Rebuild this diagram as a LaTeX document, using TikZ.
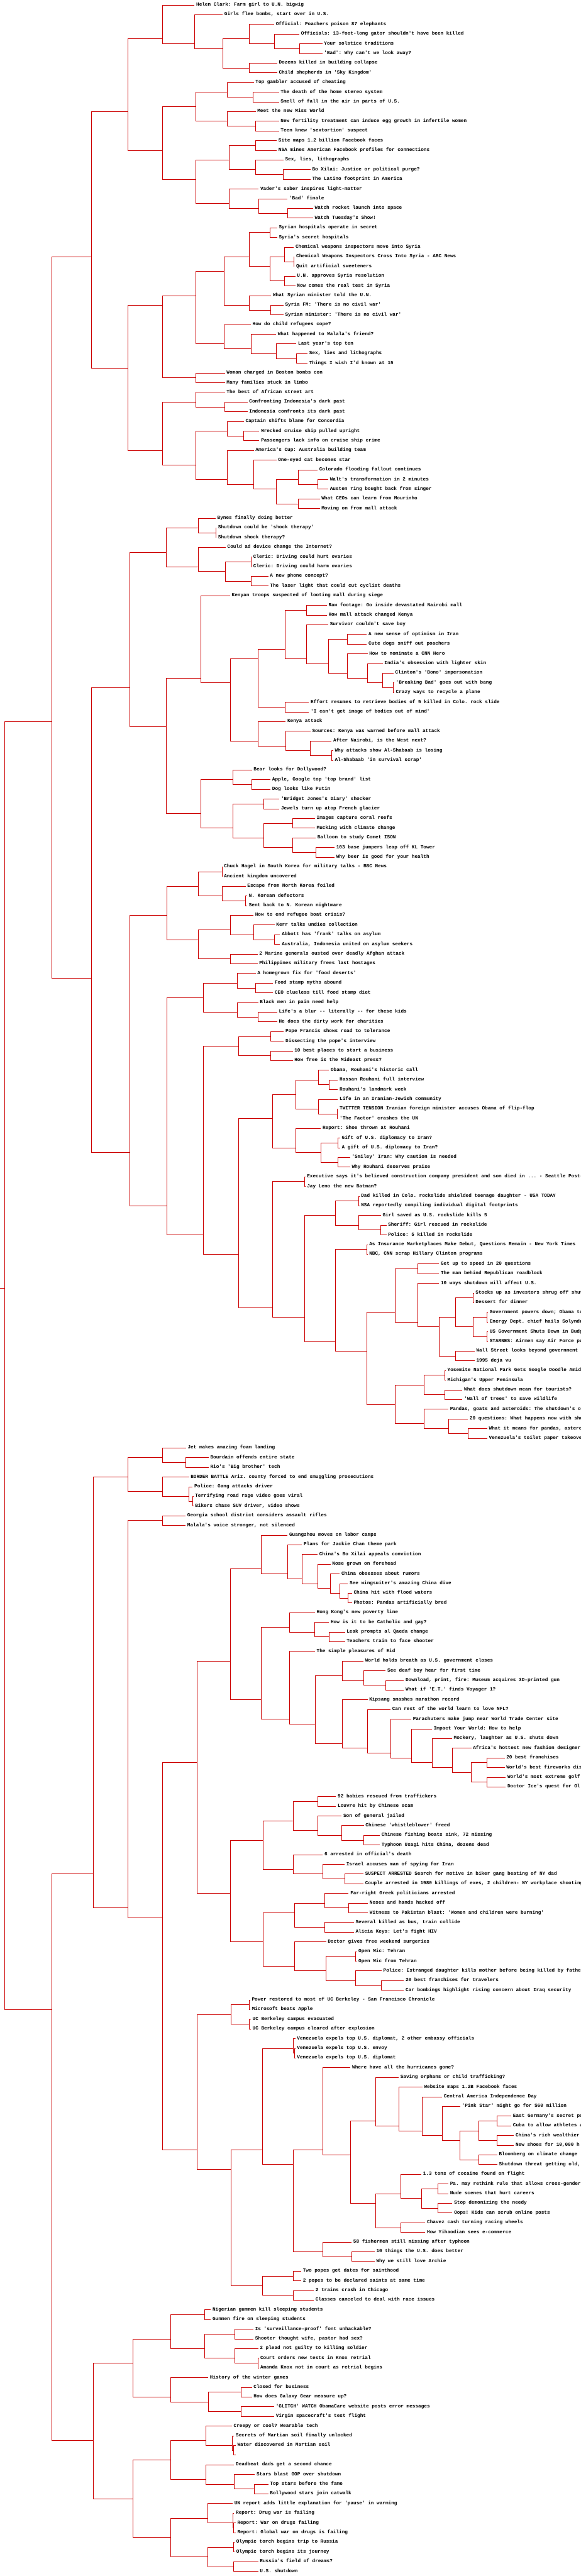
\documentclass[tikz,border=0pt]{standalone}
\usepackage{fontspec}
\setmonofont{Liberation Mono}
\usepackage{xcolor}
\usepackage{tikz}
\definecolor{linkred}{RGB}{204,0,0}

\begin{document}
\begin{tikzpicture}[
  x=0.574pt, y=-15pt,
  leaf/.style={anchor=west, inner xsep=2.5pt, inner ysep=0pt, text height=4.5pt, text depth=1.5pt,
               font=\ttfamily\bfseries\fontsize{7.5pt}{9pt}\selectfont},
  br/.style={draw=linkred, line width=0.75pt},
  elbow/.style={to path={|- (\tikztotarget)}}
]
\path[use as bounding box, fill=white] (0,-0.515) rectangle (1568,265.485);
\clip (0,-0.515) rectangle (1568,265.485);

\node[leaf] (t0) at (525,0) {Helen Clark: Farm girl to U.N. bigwig};
\node[leaf] (t1) at (601,1) {Girls flee bombs, start over in U.S.};
\node[leaf] (t2) at (740,2) {Official: Poachers poison 87 elephants};
\node[leaf] (t3) at (808,3) {Officials: 13-foot-long gator shouldn't have been killed};
\node[leaf] (t4) at (870,4) {Your solstice traditions};
\node[leaf] (t5) at (870,5) {'Bad': Why can't we look away?};
\node[leaf] (t6) at (748,6) {Dozens killed in building collapse};
\node[leaf] (t7) at (748,7) {Child shepherds in 'Sky Kingdom'};
\node[leaf] (t8) at (685,8) {Top gambler accused of cheating};
\node[leaf] (t9) at (753,9) {The death of the home stereo system};
\node[leaf] (t10) at (753,10) {Smell of fall in the air in parts of U.S.};
\node[leaf] (t11) at (690,11) {Meet the new Miss World};
\node[leaf] (t12) at (753,12) {New fertility treatment can induce egg growth in infertile women};
\node[leaf] (t13) at (753,13) {Teen knew 'sextortion' suspect};
\node[leaf] (t14) at (747,14) {Site maps 1.2 billion Facebook faces};
\node[leaf] (t15) at (747,15) {NSA mines American Facebook profiles for connections};
\node[leaf] (t16) at (765,16) {Sex, lies, lithographs};
\node[leaf] (t17) at (838,17) {Bo Xilai: Justice or political purge?};
\node[leaf] (t18) at (838,18) {The Latino footprint in America};
\node[leaf] (t19) at (698,19) {Vader's saber inspires light-matter};
\node[leaf] (t20) at (776,20) {'Bad' finale};
\node[leaf] (t21) at (845,21) {Watch rocket launch into space};
\node[leaf] (t22) at (845,22) {Watch Tuesday's Show!};
\node[leaf] (t23) at (748,23) {Syrian hospitals operate in secret};
\node[leaf] (t24) at (748,24) {Syria's secret hospitals};
\node[leaf] (t25) at (793,25) {Chemical weapons inspectors move into Syria};
\node[leaf] (t26) at (795,26) {Chemical Weapons Inspectors Cross Into Syria - ABC News};
\node[leaf] (t27) at (795,27) {Quit artificial sweeteners};
\node[leaf] (t28) at (797,28) {U.N. approves Syria resolution};
\node[leaf] (t29) at (797,29) {Now comes the real test in Syria};
\node[leaf] (t30) at (732,30) {What Syrian minister told the U.N.};
\node[leaf] (t31) at (765,31) {Syria FM: 'There is no civil war'};
\node[leaf] (t32) at (765,32) {Syrian minister: 'There is no civil war'};
\node[leaf] (t33) at (677,33) {How do child refugees cope?};
\node[leaf] (t34) at (745,34) {What happened to Malala's friend?};
\node[leaf] (t35) at (800,35) {Last year's top ten};
\node[leaf] (t36) at (830,36) {Sex, lies and lithographs};
\node[leaf] (t37) at (830,37) {Things I wish I'd known at 15};
\node[leaf] (t38) at (607,38) {Woman charged in Boston bombs con};
\node[leaf] (t39) at (607,39) {Many families stuck in limbo};
\node[leaf] (t40) at (607,40) {The best of African street art};
\node[leaf] (t41) at (668,41) {Confronting Indonesia's dark past};
\node[leaf] (t42) at (668,42) {Indonesia confronts its dark past};
\node[leaf] (t43) at (658,43) {Captain shifts blame for Concordia};
\node[leaf] (t44) at (700,44) {Wrecked cruise ship pulled upright};
\node[leaf] (t45) at (700,45) {Passengers lack info on cruise ship crime};
\node[leaf] (t46) at (685,46) {America's Cup: Australia building team};
\node[leaf] (t47) at (746,47) {One-eyed cat becomes star};
\node[leaf] (t48) at (857,48) {Colorado flooding fallout continues};
\node[leaf] (t49) at (886,49) {Walt's transformation in 2 minutes};
\node[leaf] (t50) at (886,50) {Austen ring bought back from singer};
\node[leaf] (t51) at (863,51) {What CEOs can learn from Mourinho};
\node[leaf] (t52) at (863,52) {Moving on from mall attack};
\node[leaf] (t53) at (582,53) {Bynes finally doing better};
\node[leaf] (t54) at (584,54) {Shutdown could be 'shock therapy'};
\node[leaf] (t55) at (584,55) {Shutdown shock therapy?};
\node[leaf] (t56) at (609,56) {Could ad device change the Internet?};
\node[leaf] (t57) at (679,57) {Cleric: Driving could hurt ovaries};
\node[leaf] (t58) at (679,58) {Cleric: Driving could harm ovaries};
\node[leaf] (t59) at (724,59) {A new phone concept?};
\node[leaf] (t60) at (724,60) {The laser light that could cut cyclist deaths};
\node[leaf] (t61) at (621,61) {Kenyan troops suspected of looting mall during siege};
\node[leaf] (t62) at (882,62) {Raw footage: Go inside devastated Nairobi mall};
\node[leaf] (t63) at (882,63) {How mall attack changed Kenya};
\node[leaf] (t64) at (886,64) {Survivor couldn't save boy};
\node[leaf] (t65) at (990,65) {A new sense of optimism in Iran};
\node[leaf] (t66) at (990,66) {Cute dogs sniff out poachers};
\node[leaf] (t67) at (992,67) {How to nominate a CNN Hero};
\node[leaf] (t68) at (1033,68) {India's obsession with lighter skin};
\node[leaf] (t69) at (1062,69) {Clinton's 'Bono' impersonation};
\node[leaf] (t70) at (1064,70) {'Breaking Bad' goes out with bang};
\node[leaf] (t71) at (1064,71) {Crazy ways to recycle a plane};
\node[leaf] (t72) at (834,72) {Effort resumes to retrieve bodies of 5 killed in Colo. rock slide};
\node[leaf] (t73) at (834,73) {'I can't get image of bodies out of mind'};
\node[leaf] (t74) at (771,74) {Kenya attack};
\node[leaf] (t75) at (838,75) {Sources: Kenya was warned before mall attack};
\node[leaf] (t76) at (895,76) {After Nairobi, is the West next?};
\node[leaf] (t77) at (899,77) {Why attacks show Al-Shabaab is losing};
\node[leaf] (t78) at (899,78) {Al-Shabaab 'in survival scrap'};
\node[leaf] (t79) at (680,79) {Bear looks for Dollywood?};
\node[leaf] (t80) at (730,80) {Apple, Google top 'top brand' list};
\node[leaf] (t81) at (730,81) {Dog looks like Putin};
\node[leaf] (t82) at (754,82) {'Bridget Jones's Diary' shocker};
\node[leaf] (t83) at (754,83) {Jewels turn up atop French glacier};
\node[leaf] (t84) at (850,84) {Images capture coral reefs};
\node[leaf] (t85) at (850,85) {Mucking with climate change};
\node[leaf] (t86) at (852,86) {Balloon to study Comet ISON};
\node[leaf] (t87) at (903,87) {103 base jumpers leap off KL Tower};
\node[leaf] (t88) at (903,88) {Why beer is good for your health};
\node[leaf] (t89) at (600,89) {Chuck Hagel in South Korea for military talks - BBC News};
\node[leaf] (t90) at (600,90) {Ancient kingdom uncovered};
\node[leaf] (t91) at (663,91) {Escape from North Korea foiled};
\node[leaf] (t92) at (667,92) {N. Korean defectors};
\node[leaf] (t93) at (667,93) {Sent back to N. Korean nightmare};
\node[leaf] (t94) at (684,94) {How to end refugee boat crisis?};
\node[leaf] (t95) at (741,95) {Kerr talks undies collection};
\node[leaf] (t96) at (756,96) {Abbott has 'frank' talks on asylum};
\node[leaf] (t97) at (756,97) {Australia, Indonesia united on asylum seekers};
\node[leaf] (t98) at (695,98) {2 Marine generals ousted over deadly Afghan attack};
\node[leaf] (t99) at (695,99) {Philippines military frees last hostages};
\node[leaf] (t100) at (690,100) {A homegrown fix for 'food deserts'};
\node[leaf] (t101) at (737,101) {Food stamp myths abound};
\node[leaf] (t102) at (737,102) {CEO clueless till food stamp diet};
\node[leaf] (t103) at (697,103) {Black men in pain need help};
\node[leaf] (t104) at (748,104) {Life's a blur -- literally -- for these kids};
\node[leaf] (t105) at (748,105) {He does the dirty work for charities};
\node[leaf] (t106) at (766,106) {Pope Francis shows road to tolerance};
\node[leaf] (t107) at (766,107) {Dissecting the pope's interview};
\node[leaf] (t108) at (790,108) {10 best places to start a business};
\node[leaf] (t109) at (790,109) {How free is the Mideast press?};
\node[leaf] (t110) at (888,110) {Obama, Rouhani's historic call};
\node[leaf] (t111) at (912,111) {Hassan Rouhani full interview};
\node[leaf] (t112) at (912,112) {Rouhani's landmark week};
\node[leaf] (t113) at (912,113) {Life in an Iranian-Jewish community};
\node[leaf] (t114) at (912,114) {TWITTER TENSION  Iranian foreign minister accuses Obama of flip-flop};
\node[leaf] (t115) at (912,115) {'The Factor' crashes the UN};
\node[leaf] (t116) at (866,116) {Report: Shoe thrown at Rouhani};
\node[leaf] (t117) at (918,117) {Gift of U.S. diplomacy to Iran?};
\node[leaf] (t118) at (918,118) {A gift of U.S. diplomacy to Iran?};
\node[leaf] (t119) at (945,119) {'Smiley' Iran: Why caution is needed};
\node[leaf] (t120) at (945,120) {Why Rouhani deserves praise};
\node[leaf] (t121) at (824,121) {Executive says it's believed construction company president and son died in ... - Seattle Post-Intelligencer};
\node[leaf] (t122) at (824,122) {Jay Leno the new Batman?};
\node[leaf] (t123) at (970,123) {Dad killed in Colo. rockslide shielded teenage daughter - USA TODAY};
\node[leaf] (t124) at (970,124) {NSA reportedly compiling individual digital footprints};
\node[leaf] (t125) at (1028,125) {Girl saved as U.S. rockslide kills 5};
\node[leaf] (t126) at (1043,126) {Sheriff: Girl rescued in rockslide};
\node[leaf] (t127) at (1043,127) {Police: 5 killed in rockslide};
\node[leaf] (t128) at (992,128) {As Insurance Marketplaces Make Debut, Questions Remain - New York Times};
\node[leaf] (t129) at (992,129) {NBC, CNN scrap Hillary Clinton programs};
\node[leaf] (t130) at (1185,130) {Get up to speed in 20 questions};
\node[leaf] (t131) at (1185,131) {The man behind Republican roadblock};
\node[leaf] (t132) at (1185,132) {10 ways shutdown will affect U.S.};
\node[leaf] (t133) at (1279,133) {Stocks up as investors shrug off shutdown};
\node[leaf] (t134) at (1279,134) {Dessert for dinner};
\node[leaf] (t135) at (1317,135) {Government powers down; Obama to};
\node[leaf] (t136) at (1317,136) {Energy Dept. chief hails Solyndra};
\node[leaf] (t137) at (1317,137) {US Government Shuts Down in Budget};
\node[leaf] (t138) at (1317,138) {STARNES: Airmen say Air Force pu};
\node[leaf] (t139) at (1281,139) {Wall Street looks beyond government shutdown};
\node[leaf] (t140) at (1281,140) {1995 deja vu};
\node[leaf] (t141) at (1203,141) {Yosemite National Park Gets Google Doodle Amid Shutdown};
\node[leaf] (t142) at (1203,142) {Michigan's Upper Peninsula};
\node[leaf] (t143) at (1248,143) {What does shutdown mean for tourists?};
\node[leaf] (t144) at (1248,144) {'Wall of trees' to save wildlife};
\node[leaf] (t145) at (1210,145) {Pandas, goats and asteroids: The shutdown's o};
\node[leaf] (t146) at (1263,146) {20 questions: What happens now with shutdown};
\node[leaf] (t147) at (1315,147) {What it means for pandas, asteroids};
\node[leaf] (t148) at (1315,148) {Venezuela's toilet paper takeover};
\node[leaf] (t149) at (502,149) {Jet makes amazing foam landing};
\node[leaf] (t150) at (563,150) {Bourdain offends entire state};
\node[leaf] (t151) at (563,151) {Rio's 'Big brother' tech};
\node[leaf] (t152) at (510,152) {BORDER BATTLE Ariz. county forced to end smuggling prosecutions};
\node[leaf] (t153) at (520,153) {Police: Gang attacks driver};
\node[leaf] (t154) at (522,154) {Terrifying road rage video goes viral};
\node[leaf] (t155) at (522,155) {Bikers chase SUV driver, video shows};
\node[leaf] (t156) at (501,156) {Georgia school district considers assault rifles};
\node[leaf] (t157) at (501,157) {Malala's voice stronger, not silenced};
\node[leaf] (t158) at (776,158) {Guangzhou moves on labor camps};
\node[leaf] (t159) at (815,159) {Plans for Jackie Chan theme park};
\node[leaf] (t160) at (857,160) {China's Bo Xilai appeals conviction};
\node[leaf] (t161) at (892,161) {Nose grown on forehead};
\node[leaf] (t162) at (917,162) {China obsesses about rumors};
\node[leaf] (t163) at (939,163) {See wingsuiter's amazing China dive};
\node[leaf] (t164) at (950,164) {China hit with flood waters};
\node[leaf] (t165) at (950,165) {Photos: Pandas artificially bred};
\node[leaf] (t166) at (850,166) {Hong Kong's new poverty line};
\node[leaf] (t167) at (888,167) {How is it to be Catholic and gay?};
\node[leaf] (t168) at (931,168) {Leak prompts al Qaeda change};
\node[leaf] (t169) at (931,169) {Teachers train to face shooter};
\node[leaf] (t170) at (850,170) {The simple pleasures of Eid};
\node[leaf] (t171) at (981,171) {World holds breath as U.S. government closes};
\node[leaf] (t172) at (1041,172) {See deaf boy hear for first time};
\node[leaf] (t173) at (1090,173) {Download, print, fire: Museum acquires 3D-printed gun};
\node[leaf] (t174) at (1090,174) {What if 'E.T.' finds Voyager 1?};
\node[leaf] (t175) at (992,175) {Kipsang smashes marathon record};
\node[leaf] (t176) at (1054,176) {Can rest of the world learn to love NFL?};
\node[leaf] (t177) at (1110,177) {Parachuters make jump near World Trade Center site};
\node[leaf] (t178) at (1166,178) {Impact Your World: How to help};
\node[leaf] (t179) at (1220,179) {Mockery, laughter as U.S. shuts down};
\node[leaf] (t180) at (1272,180) {Africa's hottest new fashion designer};
\node[leaf] (t181) at (1362,181) {20 best franchises};
\node[leaf] (t182) at (1362,182) {World's best fireworks displays};
\node[leaf] (t183) at (1365,183) {World's most extreme golf};
\node[leaf] (t184) at (1365,184) {Doctor Ice's quest for Ol};
\node[leaf] (t185) at (907,185) {92 babies rescued from traffickers};
\node[leaf] (t186) at (907,186) {Louvre hit by Chinese scam};
\node[leaf] (t187) at (922,187) {Son of general jailed};
\node[leaf] (t188) at (982,188) {Chinese 'whistleblower' freed};
\node[leaf] (t189) at (1025,189) {Chinese fishing boats sink, 72 missing};
\node[leaf] (t190) at (1025,190) {Typhoon Usagi hits China, dozens dead};
\node[leaf] (t191) at (871,191) {6 arrested in official's death};
\node[leaf] (t192) at (930,192) {Israel accuses man of spying for Iran};
\node[leaf] (t193) at (981,193) {SUSPECT ARRESTED  Search for motive in biker gang beating of NY dad};
\node[leaf] (t194) at (981,194) {Couple arrested in 1980 killings of exes, 2 children- NY workplace shooting};
\node[leaf] (t195) at (941,195) {Far-right Greek politicians arrested};
\node[leaf] (t196) at (993,196) {Noses and hands hacked off};
\node[leaf] (t197) at (993,197) {Witness to Pakistan blast: 'Women and children were burning'};
\node[leaf] (t198) at (955,198) {Several killed as bus, train collide};
\node[leaf] (t199) at (955,199) {Alicia Keys: Let's fight HIV};
\node[leaf] (t200) at (880,200) {Doctor gives free weekend surgeries};
\node[leaf] (t201) at (963,201) {Open Mic: Tehran};
\node[leaf] (t202) at (963,202) {Open Mic from Tehran};
\node[leaf] (t203) at (1030,203) {Police: Estranged daughter kills mother before being killed by father};
\node[leaf] (t204) at (1090,204) {20 best franchises for travelers};
\node[leaf] (t205) at (1090,205) {Car bombings highlight rising concern about Iraq security};
\node[leaf] (t206) at (675,206) {Power restored to most of UC Berkeley - San Francisco Chronicle};
\node[leaf] (t207) at (675,207) {Microsoft beats Apple};
\node[leaf] (t208) at (677,208) {UC Berkeley campus evacuated};
\node[leaf] (t209) at (677,209) {UC Berkeley campus cleared after explosion};
\node[leaf] (t210) at (797,210) {Venezuela expels top U.S. diplomat, 2 other embassy officials};
\node[leaf] (t211) at (797,211) {Venezuela expels top U.S. envoy};
\node[leaf] (t212) at (797,212) {Venezuela expels top U.S. diplomat};
\node[leaf] (t213) at (946,213) {Where have all the hurricanes gone?};
\node[leaf] (t214) at (1076,214) {Saving orphans or child trafficking?};
\node[leaf] (t215) at (1140,215) {Website maps 1.2B Facebook faces};
\node[leaf] (t216) at (1193,216) {Central America Independence Day};
\node[leaf] (t217) at (1242,217) {'Pink Star' might go for \$60 million};
\node[leaf] (t218) at (1380,218) {East Germany's secret police};
\node[leaf] (t219) at (1380,219) {Cuba to allow athletes a};
\node[leaf] (t220) at (1387,220) {China's rich wealthier than};
\node[leaf] (t221) at (1387,221) {New shoes for 10,000 h};
\node[leaf] (t222) at (1342,222) {Bloomberg on climate change};
\node[leaf] (t223) at (1342,223) {Shutdown threat getting old, but};
\node[leaf] (t224) at (1137,224) {1.3 tons of cocaine found on flight};
\node[leaf] (t225) at (1210,225) {Pa. may rethink rule that allows cross-gender};
\node[leaf] (t226) at (1210,226) {Nude scenes that hurt careers};
\node[leaf] (t227) at (1221,227) {Stop demonizing the needy};
\node[leaf] (t228) at (1221,228) {Oops! Kids can scrub online posts};
\node[leaf] (t229) at (1148,229) {Chavez cash turning racing wheels};
\node[leaf] (t230) at (1148,230) {How Yihaodian sees e-commerce};
\node[leaf] (t231) at (949,231) {58 fishermen still missing after typhoon};
\node[leaf] (t232) at (1011,232) {10 things the U.S. does better};
\node[leaf] (t233) at (1011,233) {Why we still love Archie};
\node[leaf] (t234) at (813,234) {Two popes get dates for sainthood};
\node[leaf] (t235) at (813,235) {2 popes to be declared saints at same time};
\node[leaf] (t236) at (847,236) {2 trains crash in Chicago};
\node[leaf] (t237) at (847,237) {Classes canceled to deal with race issues};
\node[leaf] (t238) at (569,238) {Nigerian gunmen kill sleeping students};
\node[leaf] (t239) at (569,239) {Gunmen fire on sleeping students};
\node[leaf] (t240) at (684,240) {Is 'surveillance-proof' font unhackable?};
\node[leaf] (t241) at (684,241) {Shooter thought wife, pastor had sex?};
\node[leaf] (t242) at (697,242) {2 plead not guilty to killing soldier};
\node[leaf] (t243) at (698,243) {Court orders new tests in Knox retrial};
\node[leaf] (t244) at (698,244) {Amanda Knox not in court as retrial begins};
\node[leaf] (t245) at (562,245) {History of the winter games};
\node[leaf] (t246) at (680,246) {Closed for business};
\node[leaf] (t247) at (680,247) {How does Galaxy Gear measure up?};
\node[leaf] (t248) at (740,248) {'GLITCH' WATCH ObamaCare website posts error messages};
\node[leaf] (t249) at (740,249) {Virgin spacecraft's test flight};
\node[leaf] (t250) at (626,250) {Creepy or cool? Wearable tech};
\node[leaf] (t251) at (632,251) {Secrets of Martian soil finally unlocked};
\node[leaf] (t252) at (636,252) {Water discovered in Martian soil};
\node[leaf] (t253) at (636,253) {};
\node[leaf] (t254) at (632,254) {Deadbeat dads get a second chance};
\node[leaf] (t255) at (688,255) {Stars blast GOP over shutdown};
\node[leaf] (t256) at (724,256) {Top stars before the fame};
\node[leaf] (t257) at (724,257) {Bollywood stars join catwalk};
\node[leaf] (t258) at (628,258) {UN report adds little explanation for 'pause' in warming};
\node[leaf] (t259) at (632,259) {Report: Drug war is failing};
\node[leaf] (t260) at (636,260) {Report: War on drugs failing};
\node[leaf] (t261) at (636,261) {Report: Global war on drugs is failing};
\node[leaf] (t262) at (633,262) {Olympic torch begins trip to Russia};
\node[leaf] (t263) at (633,263) {Olympic torch begins its journey};
\node[leaf] (t264) at (697,264) {Russia's field of dreams?};
\node[leaf] (t265) at (697,265) {U.S. shutdown};

\coordinate (stub) at (0,132.5);
\coordinate (c0-265) at (13,132.5);
\coordinate (c0-148) at (139,74);
\coordinate (c0-52) at (246,26);
\coordinate (c0-22) at (345,11);
\coordinate (c0-7) at (438,3.5);
\coordinate (c1-7) at (525,4);
\coordinate (c2-7) at (601,4.5);
\coordinate (c2-5) at (673,3.5);
\coordinate (c3-5) at (740,4);
\coordinate (c4-5) at (808,4.5);
\coordinate (c6-7) at (673,6.5);
\coordinate (c8-22) at (438,15);
\coordinate (c8-13) at (529,10.5);
\coordinate (c8-10) at (613,9);
\coordinate (c9-10) at (683,9.5);
\coordinate (c11-13) at (613,12);
\coordinate (c12-13) at (689,12.5);
\coordinate (c14-22) at (529,18);
\coordinate (c14-18) at (618,16);
\coordinate (c14-15) at (690,14.5);
\coordinate (c16-18) at (690,17);
\coordinate (c17-18) at (765,17.5);
\coordinate (c19-22) at (618,20.5);
\coordinate (c20-22) at (698,21);
\coordinate (c21-22) at (776,21.5);
\coordinate (c23-52) at (345,37.5);
\coordinate (c23-39) at (438,31);
\coordinate (c23-37) at (528,30);
\coordinate (c23-32) at (605,27.5);
\coordinate (c23-29) at (673,26);
\coordinate (c23-24) at (728,23.5);
\coordinate (c25-29) at (728,27);
\coordinate (c25-27) at (767,26);
\coordinate (c26-27) at (793,26.5);
\coordinate (c28-29) at (767,28.5);
\coordinate (c30-32) at (673,31);
\coordinate (c31-32) at (731,31.5);
\coordinate (c33-37) at (605,35);
\coordinate (c34-37) at (677,35.5);
\coordinate (c35-37) at (745,36);
\coordinate (c36-37) at (800,36.5);
\coordinate (c38-39) at (528,38.5);
\coordinate (c40-52) at (438,46);
\coordinate (c40-42) at (528,41);
\coordinate (c41-42) at (607,41.5);
\coordinate (c43-52) at (528,47.5);
\coordinate (c43-45) at (613,44);
\coordinate (c44-45) at (657,44.5);
\coordinate (c46-52) at (613,49);
\coordinate (c47-52) at (685,49.5);
\coordinate (c48-52) at (746,50);
\coordinate (c48-50) at (805,49);
\coordinate (c49-50) at (857,49.5);
\coordinate (c51-52) at (805,51.5);
\coordinate (c53-148) at (246,100.5);
\coordinate (c53-88) at (350,70.5);
\coordinate (c53-60) at (448,56.5);
\coordinate (c53-55) at (535,54);
\coordinate (c54-55) at (582,54.5);
\coordinate (c56-60) at (535,58);
\coordinate (c57-60) at (609,58.5);
\coordinate (c57-58) at (677,57.5);
\coordinate (c59-60) at (677,59.5);
\coordinate (c61-88) at (448,74.5);
\coordinate (c61-78) at (542,69.5);
\coordinate (c62-78) at (621,70);
\coordinate (c62-73) at (697,67.5);
\coordinate (c62-71) at (769,66.5);
\coordinate (c62-63) at (827,62.5);
\coordinate (c64-71) at (827,67.5);
\coordinate (c65-71) at (886,68);
\coordinate (c65-66) at (938,65.5);
\coordinate (c67-71) at (938,69);
\coordinate (c68-71) at (992,69.5);
\coordinate (c69-71) at (1033,70);
\coordinate (c70-71) at (1062,70.5);
\coordinate (c72-73) at (769,72.5);
\coordinate (c74-78) at (697,76);
\coordinate (c75-78) at (771,76.5);
\coordinate (c76-78) at (838,77);
\coordinate (c77-78) at (895,77.5);
\coordinate (c79-88) at (542,83.5);
\coordinate (c79-81) at (628,80);
\coordinate (c80-81) at (680,80.5);
\coordinate (c82-88) at (628,85);
\coordinate (c82-83) at (712,82.5);
\coordinate (c84-88) at (712,86);
\coordinate (c84-85) at (789,84.5);
\coordinate (c86-88) at (789,87);
\coordinate (c87-88) at (852,87.5);
\coordinate (c89-148) at (350,118.5);
\coordinate (c89-99) at (450,94);
\coordinate (c89-93) at (536,91);
\coordinate (c89-90) at (599,89.5);
\coordinate (c91-93) at (599,92);
\coordinate (c92-93) at (663,92.5);
\coordinate (c94-99) at (536,96.5);
\coordinate (c94-97) at (621,95.5);
\coordinate (c95-97) at (684,96);
\coordinate (c96-97) at (741,96.5);
\coordinate (c98-99) at (621,98.5);
\coordinate (c100-148) at (450,124);
\coordinate (c100-105) at (548,102.5);
\coordinate (c100-102) at (640,101);
\coordinate (c101-102) at (690,101.5);
\coordinate (c103-105) at (640,104);
\coordinate (c104-105) at (697,104.5);
\coordinate (c106-148) at (548,127);
\coordinate (c106-109) at (643,107.5);
\coordinate (c106-107) at (730,106.5);
\coordinate (c108-109) at (730,108.5);
\coordinate (c110-148) at (643,129);
\coordinate (c110-120) at (736,115);
\coordinate (c110-115) at (799,112.5);
\coordinate (c110-112) at (859,111);
\coordinate (c111-112) at (888,111.5);
\coordinate (c113-115) at (859,114);
\coordinate (c114-115) at (910,114.5);
\coordinate (c116-120) at (799,118);
\coordinate (c117-120) at (866,118.5);
\coordinate (c117-118) at (912,117.5);
\coordinate (c119-120) at (912,119.5);
\coordinate (c121-148) at (736,134.5);
\coordinate (c121-122) at (822,121.5);
\coordinate (c123-148) at (822,135.5);
\coordinate (c123-127) at (905,125);
\coordinate (c123-124) at (968,123.5);
\coordinate (c125-127) at (968,126);
\coordinate (c126-127) at (1028,126.5);
\coordinate (c128-148) at (905,138);
\coordinate (c128-129) at (990,128.5);
\coordinate (c130-148) at (990,139);
\coordinate (c130-140) at (1067,135);
\coordinate (c130-131) at (1127,130.5);
\coordinate (c132-140) at (1127,136);
\coordinate (c133-140) at (1185,136.5);
\coordinate (c133-138) at (1230,135.5);
\coordinate (c133-134) at (1277,133.5);
\coordinate (c135-138) at (1277,136.5);
\coordinate (c135-136) at (1315,135.5);
\coordinate (c137-138) at (1315,137.5);
\coordinate (c139-140) at (1230,139.5);
\coordinate (c141-148) at (1067,144.5);
\coordinate (c141-144) at (1144,142.5);
\coordinate (c141-142) at (1201,141.5);
\coordinate (c143-144) at (1201,143.5);
\coordinate (c145-148) at (1144,146.5);
\coordinate (c146-148) at (1210,147);
\coordinate (c147-148) at (1263,147.5);
\coordinate (c149-265) at (139,207);
\coordinate (c149-237) at (251,193);
\coordinate (c149-155) at (346,152);
\coordinate (c149-151) at (439,150);
\coordinate (c150-151) at (502,150.5);
\coordinate (c152-155) at (439,153.5);
\coordinate (c153-155) at (509,154);
\coordinate (c154-155) at (520,154.5);
\coordinate (c156-237) at (346,196.5);
\coordinate (c156-157) at (439,156.5);
\coordinate (c158-237) at (439,197.5);
\coordinate (c158-205) at (532,181.5);
\coordinate (c158-184) at (621,171);
\coordinate (c158-165) at (705,161.5);
\coordinate (c159-165) at (776,162);
\coordinate (c160-165) at (815,162.5);
\coordinate (c161-165) at (857,163);
\coordinate (c162-165) at (892,163.5);
\coordinate (c163-165) at (917,164);
\coordinate (c164-165) at (939,164.5);
\coordinate (c166-184) at (705,175);
\coordinate (c166-169) at (782,167.5);
\coordinate (c167-169) at (850,168);
\coordinate (c168-169) at (888,168.5);
\coordinate (c170-184) at (782,177);
\coordinate (c171-184) at (851,177.5);
\coordinate (c171-174) at (924,172.5);
\coordinate (c172-174) at (981,173);
\coordinate (c173-174) at (1041,173.5);
\coordinate (c175-184) at (924,179.5);
\coordinate (c176-184) at (992,180);
\coordinate (c177-184) at (1054,180.5);
\coordinate (c178-184) at (1110,181);
\coordinate (c179-184) at (1166,181.5);
\coordinate (c180-184) at (1220,182);
\coordinate (c181-184) at (1272,182.5);
\coordinate (c181-182) at (1315,181.5);
\coordinate (c183-184) at (1315,183.5);
\coordinate (c185-205) at (621,195);
\coordinate (c185-194) at (710,189.5);
\coordinate (c185-190) at (792,187.5);
\coordinate (c185-186) at (858,185.5);
\coordinate (c187-190) at (858,188.5);
\coordinate (c188-190) at (922,189);
\coordinate (c189-190) at (982,189.5);
\coordinate (c191-194) at (792,192.5);
\coordinate (c192-194) at (871,193);
\coordinate (c193-194) at (930,193.5);
\coordinate (c195-205) at (710,200);
\coordinate (c195-199) at (795,197);
\coordinate (c195-197) at (877,196);
\coordinate (c196-197) at (941,196.5);
\coordinate (c198-199) at (877,198.5);
\coordinate (c200-205) at (795,202.5);
\coordinate (c201-205) at (880,203);
\coordinate (c201-202) at (960,201.5);
\coordinate (c203-205) at (960,204);
\coordinate (c204-205) at (1029,204.5);
\coordinate (c206-237) at (532,221.5);
\coordinate (c206-209) at (624,207.5);
\coordinate (c206-207) at (673,206.5);
\coordinate (c208-209) at (673,208.5);
\coordinate (c210-237) at (624,223.5);
\coordinate (c210-233) at (709,221.5);
\coordinate (c210-212) at (792,211);
\coordinate (c211-212) at (795,211.5);
\coordinate (c213-233) at (792,223);
\coordinate (c213-230) at (871,221.5);
\coordinate (c214-230) at (946,222);
\coordinate (c214-223) at (1014,218.5);
\coordinate (c215-223) at (1076,219);
\coordinate (c216-223) at (1140,219.5);
\coordinate (c217-223) at (1193,220);
\coordinate (c218-223) at (1242,220.5);
\coordinate (c218-221) at (1292,219.5);
\coordinate (c218-219) at (1342,218.5);
\coordinate (c220-221) at (1342,220.5);
\coordinate (c222-223) at (1292,222.5);
\coordinate (c224-230) at (1014,227);
\coordinate (c224-228) at (1081,226);
\coordinate (c225-228) at (1137,226.5);
\coordinate (c225-226) at (1182,225.5);
\coordinate (c227-228) at (1182,227.5);
\coordinate (c229-230) at (1081,229.5);
\coordinate (c231-233) at (871,232);
\coordinate (c232-233) at (949,232.5);
\coordinate (c234-237) at (709,235.5);
\coordinate (c234-235) at (791,234.5);
\coordinate (c236-237) at (791,236.5);
\coordinate (c238-265) at (251,251.5);
\coordinate (c238-249) at (358,243.5);
\coordinate (c238-244) at (460,241);
\coordinate (c238-239) at (553,238.5);
\coordinate (c240-244) at (553,242);
\coordinate (c240-241) at (634,240.5);
\coordinate (c242-244) at (634,243);
\coordinate (c243-244) at (697,243.5);
\coordinate (c245-249) at (460,247);
\coordinate (c246-249) at (562,247.5);
\coordinate (c246-247) at (651,246.5);
\coordinate (c248-249) at (651,248.5);
\coordinate (c250-265) at (358,257.5);
\coordinate (c250-257) at (460,253.5);
\coordinate (c250-253) at (556,251.5);
\coordinate (c251-253) at (627,252);
\coordinate (c252-253) at (630,252.5);
\coordinate (c254-257) at (556,255.5);
\coordinate (c255-257) at (632,256);
\coordinate (c256-257) at (687,256.5);
\coordinate (c258-265) at (460,261.5);
\coordinate (c258-261) at (560,259.5);
\coordinate (c259-261) at (628,260);
\coordinate (c260-261) at (631,260.5);
\coordinate (c262-265) at (560,263.5);
\coordinate (c262-263) at (631,262.5);
\coordinate (c264-265) at (631,264.5);

\draw[br] (stub) -- (c0-265);
\draw[br] (c0-265) edge[elbow] (c0-148) edge[elbow] (c149-265);
\draw[br] (c0-148) edge[elbow] (c0-52) edge[elbow] (c53-148);
\draw[br] (c0-52) edge[elbow] (c0-22) edge[elbow] (c23-52);
\draw[br] (c0-22) edge[elbow] (c0-7) edge[elbow] (c8-22);
\draw[br] (c0-7) edge[elbow] (t0) edge[elbow] (c1-7);
\draw[br] (c1-7) edge[elbow] (t1) edge[elbow] (c2-7);
\draw[br] (c2-7) edge[elbow] (c2-5) edge[elbow] (c6-7);
\draw[br] (c2-5) edge[elbow] (t2) edge[elbow] (c3-5);
\draw[br] (c3-5) edge[elbow] (t3) edge[elbow] (c4-5);
\draw[br] (c4-5) edge[elbow] (t4) edge[elbow] (t5);
\draw[br] (c6-7) edge[elbow] (t6) edge[elbow] (t7);
\draw[br] (c8-22) edge[elbow] (c8-13) edge[elbow] (c14-22);
\draw[br] (c8-13) edge[elbow] (c8-10) edge[elbow] (c11-13);
\draw[br] (c8-10) edge[elbow] (t8) edge[elbow] (c9-10);
\draw[br] (c9-10) edge[elbow] (t9) edge[elbow] (t10);
\draw[br] (c11-13) edge[elbow] (t11) edge[elbow] (c12-13);
\draw[br] (c12-13) edge[elbow] (t12) edge[elbow] (t13);
\draw[br] (c14-22) edge[elbow] (c14-18) edge[elbow] (c19-22);
\draw[br] (c14-18) edge[elbow] (c14-15) edge[elbow] (c16-18);
\draw[br] (c14-15) edge[elbow] (t14) edge[elbow] (t15);
\draw[br] (c16-18) edge[elbow] (t16) edge[elbow] (c17-18);
\draw[br] (c17-18) edge[elbow] (t17) edge[elbow] (t18);
\draw[br] (c19-22) edge[elbow] (t19) edge[elbow] (c20-22);
\draw[br] (c20-22) edge[elbow] (t20) edge[elbow] (c21-22);
\draw[br] (c21-22) edge[elbow] (t21) edge[elbow] (t22);
\draw[br] (c23-52) edge[elbow] (c23-39) edge[elbow] (c40-52);
\draw[br] (c23-39) edge[elbow] (c23-37) edge[elbow] (c38-39);
\draw[br] (c23-37) edge[elbow] (c23-32) edge[elbow] (c33-37);
\draw[br] (c23-32) edge[elbow] (c23-29) edge[elbow] (c30-32);
\draw[br] (c23-29) edge[elbow] (c23-24) edge[elbow] (c25-29);
\draw[br] (c23-24) edge[elbow] (t23) edge[elbow] (t24);
\draw[br] (c25-29) edge[elbow] (c25-27) edge[elbow] (c28-29);
\draw[br] (c25-27) edge[elbow] (t25) edge[elbow] (c26-27);
\draw[br] (c26-27) edge[elbow] (t26) edge[elbow] (t27);
\draw[br] (c28-29) edge[elbow] (t28) edge[elbow] (t29);
\draw[br] (c30-32) edge[elbow] (t30) edge[elbow] (c31-32);
\draw[br] (c31-32) edge[elbow] (t31) edge[elbow] (t32);
\draw[br] (c33-37) edge[elbow] (t33) edge[elbow] (c34-37);
\draw[br] (c34-37) edge[elbow] (t34) edge[elbow] (c35-37);
\draw[br] (c35-37) edge[elbow] (t35) edge[elbow] (c36-37);
\draw[br] (c36-37) edge[elbow] (t36) edge[elbow] (t37);
\draw[br] (c38-39) edge[elbow] (t38) edge[elbow] (t39);
\draw[br] (c40-52) edge[elbow] (c40-42) edge[elbow] (c43-52);
\draw[br] (c40-42) edge[elbow] (t40) edge[elbow] (c41-42);
\draw[br] (c41-42) edge[elbow] (t41) edge[elbow] (t42);
\draw[br] (c43-52) edge[elbow] (c43-45) edge[elbow] (c46-52);
\draw[br] (c43-45) edge[elbow] (t43) edge[elbow] (c44-45);
\draw[br] (c44-45) edge[elbow] (t44) edge[elbow] (t45);
\draw[br] (c46-52) edge[elbow] (t46) edge[elbow] (c47-52);
\draw[br] (c47-52) edge[elbow] (t47) edge[elbow] (c48-52);
\draw[br] (c48-52) edge[elbow] (c48-50) edge[elbow] (c51-52);
\draw[br] (c48-50) edge[elbow] (t48) edge[elbow] (c49-50);
\draw[br] (c49-50) edge[elbow] (t49) edge[elbow] (t50);
\draw[br] (c51-52) edge[elbow] (t51) edge[elbow] (t52);
\draw[br] (c53-148) edge[elbow] (c53-88) edge[elbow] (c89-148);
\draw[br] (c53-88) edge[elbow] (c53-60) edge[elbow] (c61-88);
\draw[br] (c53-60) edge[elbow] (c53-55) edge[elbow] (c56-60);
\draw[br] (c53-55) edge[elbow] (t53) edge[elbow] (c54-55);
\draw[br] (c54-55) edge[elbow] (t54) edge[elbow] (t55);
\draw[br] (c56-60) edge[elbow] (t56) edge[elbow] (c57-60);
\draw[br] (c57-60) edge[elbow] (c57-58) edge[elbow] (c59-60);
\draw[br] (c57-58) edge[elbow] (t57) edge[elbow] (t58);
\draw[br] (c59-60) edge[elbow] (t59) edge[elbow] (t60);
\draw[br] (c61-88) edge[elbow] (c61-78) edge[elbow] (c79-88);
\draw[br] (c61-78) edge[elbow] (t61) edge[elbow] (c62-78);
\draw[br] (c62-78) edge[elbow] (c62-73) edge[elbow] (c74-78);
\draw[br] (c62-73) edge[elbow] (c62-71) edge[elbow] (c72-73);
\draw[br] (c62-71) edge[elbow] (c62-63) edge[elbow] (c64-71);
\draw[br] (c62-63) edge[elbow] (t62) edge[elbow] (t63);
\draw[br] (c64-71) edge[elbow] (t64) edge[elbow] (c65-71);
\draw[br] (c65-71) edge[elbow] (c65-66) edge[elbow] (c67-71);
\draw[br] (c65-66) edge[elbow] (t65) edge[elbow] (t66);
\draw[br] (c67-71) edge[elbow] (t67) edge[elbow] (c68-71);
\draw[br] (c68-71) edge[elbow] (t68) edge[elbow] (c69-71);
\draw[br] (c69-71) edge[elbow] (t69) edge[elbow] (c70-71);
\draw[br] (c70-71) edge[elbow] (t70) edge[elbow] (t71);
\draw[br] (c72-73) edge[elbow] (t72) edge[elbow] (t73);
\draw[br] (c74-78) edge[elbow] (t74) edge[elbow] (c75-78);
\draw[br] (c75-78) edge[elbow] (t75) edge[elbow] (c76-78);
\draw[br] (c76-78) edge[elbow] (t76) edge[elbow] (c77-78);
\draw[br] (c77-78) edge[elbow] (t77) edge[elbow] (t78);
\draw[br] (c79-88) edge[elbow] (c79-81) edge[elbow] (c82-88);
\draw[br] (c79-81) edge[elbow] (t79) edge[elbow] (c80-81);
\draw[br] (c80-81) edge[elbow] (t80) edge[elbow] (t81);
\draw[br] (c82-88) edge[elbow] (c82-83) edge[elbow] (c84-88);
\draw[br] (c82-83) edge[elbow] (t82) edge[elbow] (t83);
\draw[br] (c84-88) edge[elbow] (c84-85) edge[elbow] (c86-88);
\draw[br] (c84-85) edge[elbow] (t84) edge[elbow] (t85);
\draw[br] (c86-88) edge[elbow] (t86) edge[elbow] (c87-88);
\draw[br] (c87-88) edge[elbow] (t87) edge[elbow] (t88);
\draw[br] (c89-148) edge[elbow] (c89-99) edge[elbow] (c100-148);
\draw[br] (c89-99) edge[elbow] (c89-93) edge[elbow] (c94-99);
\draw[br] (c89-93) edge[elbow] (c89-90) edge[elbow] (c91-93);
\draw[br] (c89-90) edge[elbow] (t89) edge[elbow] (t90);
\draw[br] (c91-93) edge[elbow] (t91) edge[elbow] (c92-93);
\draw[br] (c92-93) edge[elbow] (t92) edge[elbow] (t93);
\draw[br] (c94-99) edge[elbow] (c94-97) edge[elbow] (c98-99);
\draw[br] (c94-97) edge[elbow] (t94) edge[elbow] (c95-97);
\draw[br] (c95-97) edge[elbow] (t95) edge[elbow] (c96-97);
\draw[br] (c96-97) edge[elbow] (t96) edge[elbow] (t97);
\draw[br] (c98-99) edge[elbow] (t98) edge[elbow] (t99);
\draw[br] (c100-148) edge[elbow] (c100-105) edge[elbow] (c106-148);
\draw[br] (c100-105) edge[elbow] (c100-102) edge[elbow] (c103-105);
\draw[br] (c100-102) edge[elbow] (t100) edge[elbow] (c101-102);
\draw[br] (c101-102) edge[elbow] (t101) edge[elbow] (t102);
\draw[br] (c103-105) edge[elbow] (t103) edge[elbow] (c104-105);
\draw[br] (c104-105) edge[elbow] (t104) edge[elbow] (t105);
\draw[br] (c106-148) edge[elbow] (c106-109) edge[elbow] (c110-148);
\draw[br] (c106-109) edge[elbow] (c106-107) edge[elbow] (c108-109);
\draw[br] (c106-107) edge[elbow] (t106) edge[elbow] (t107);
\draw[br] (c108-109) edge[elbow] (t108) edge[elbow] (t109);
\draw[br] (c110-148) edge[elbow] (c110-120) edge[elbow] (c121-148);
\draw[br] (c110-120) edge[elbow] (c110-115) edge[elbow] (c116-120);
\draw[br] (c110-115) edge[elbow] (c110-112) edge[elbow] (c113-115);
\draw[br] (c110-112) edge[elbow] (t110) edge[elbow] (c111-112);
\draw[br] (c111-112) edge[elbow] (t111) edge[elbow] (t112);
\draw[br] (c113-115) edge[elbow] (t113) edge[elbow] (c114-115);
\draw[br] (c114-115) edge[elbow] (t114) edge[elbow] (t115);
\draw[br] (c116-120) edge[elbow] (t116) edge[elbow] (c117-120);
\draw[br] (c117-120) edge[elbow] (c117-118) edge[elbow] (c119-120);
\draw[br] (c117-118) edge[elbow] (t117) edge[elbow] (t118);
\draw[br] (c119-120) edge[elbow] (t119) edge[elbow] (t120);
\draw[br] (c121-148) edge[elbow] (c121-122) edge[elbow] (c123-148);
\draw[br] (c121-122) edge[elbow] (t121) edge[elbow] (t122);
\draw[br] (c123-148) edge[elbow] (c123-127) edge[elbow] (c128-148);
\draw[br] (c123-127) edge[elbow] (c123-124) edge[elbow] (c125-127);
\draw[br] (c123-124) edge[elbow] (t123) edge[elbow] (t124);
\draw[br] (c125-127) edge[elbow] (t125) edge[elbow] (c126-127);
\draw[br] (c126-127) edge[elbow] (t126) edge[elbow] (t127);
\draw[br] (c128-148) edge[elbow] (c128-129) edge[elbow] (c130-148);
\draw[br] (c128-129) edge[elbow] (t128) edge[elbow] (t129);
\draw[br] (c130-148) edge[elbow] (c130-140) edge[elbow] (c141-148);
\draw[br] (c130-140) edge[elbow] (c130-131) edge[elbow] (c132-140);
\draw[br] (c130-131) edge[elbow] (t130) edge[elbow] (t131);
\draw[br] (c132-140) edge[elbow] (t132) edge[elbow] (c133-140);
\draw[br] (c133-140) edge[elbow] (c133-138) edge[elbow] (c139-140);
\draw[br] (c133-138) edge[elbow] (c133-134) edge[elbow] (c135-138);
\draw[br] (c133-134) edge[elbow] (t133) edge[elbow] (t134);
\draw[br] (c135-138) edge[elbow] (c135-136) edge[elbow] (c137-138);
\draw[br] (c135-136) edge[elbow] (t135) edge[elbow] (t136);
\draw[br] (c137-138) edge[elbow] (t137) edge[elbow] (t138);
\draw[br] (c139-140) edge[elbow] (t139) edge[elbow] (t140);
\draw[br] (c141-148) edge[elbow] (c141-144) edge[elbow] (c145-148);
\draw[br] (c141-144) edge[elbow] (c141-142) edge[elbow] (c143-144);
\draw[br] (c141-142) edge[elbow] (t141) edge[elbow] (t142);
\draw[br] (c143-144) edge[elbow] (t143) edge[elbow] (t144);
\draw[br] (c145-148) edge[elbow] (t145) edge[elbow] (c146-148);
\draw[br] (c146-148) edge[elbow] (t146) edge[elbow] (c147-148);
\draw[br] (c147-148) edge[elbow] (t147) edge[elbow] (t148);
\draw[br] (c149-265) edge[elbow] (c149-237) edge[elbow] (c238-265);
\draw[br] (c149-237) edge[elbow] (c149-155) edge[elbow] (c156-237);
\draw[br] (c149-155) edge[elbow] (c149-151) edge[elbow] (c152-155);
\draw[br] (c149-151) edge[elbow] (t149) edge[elbow] (c150-151);
\draw[br] (c150-151) edge[elbow] (t150) edge[elbow] (t151);
\draw[br] (c152-155) edge[elbow] (t152) edge[elbow] (c153-155);
\draw[br] (c153-155) edge[elbow] (t153) edge[elbow] (c154-155);
\draw[br] (c154-155) edge[elbow] (t154) edge[elbow] (t155);
\draw[br] (c156-237) edge[elbow] (c156-157) edge[elbow] (c158-237);
\draw[br] (c156-157) edge[elbow] (t156) edge[elbow] (t157);
\draw[br] (c158-237) edge[elbow] (c158-205) edge[elbow] (c206-237);
\draw[br] (c158-205) edge[elbow] (c158-184) edge[elbow] (c185-205);
\draw[br] (c158-184) edge[elbow] (c158-165) edge[elbow] (c166-184);
\draw[br] (c158-165) edge[elbow] (t158) edge[elbow] (c159-165);
\draw[br] (c159-165) edge[elbow] (t159) edge[elbow] (c160-165);
\draw[br] (c160-165) edge[elbow] (t160) edge[elbow] (c161-165);
\draw[br] (c161-165) edge[elbow] (t161) edge[elbow] (c162-165);
\draw[br] (c162-165) edge[elbow] (t162) edge[elbow] (c163-165);
\draw[br] (c163-165) edge[elbow] (t163) edge[elbow] (c164-165);
\draw[br] (c164-165) edge[elbow] (t164) edge[elbow] (t165);
\draw[br] (c166-184) edge[elbow] (c166-169) edge[elbow] (c170-184);
\draw[br] (c166-169) edge[elbow] (t166) edge[elbow] (c167-169);
\draw[br] (c167-169) edge[elbow] (t167) edge[elbow] (c168-169);
\draw[br] (c168-169) edge[elbow] (t168) edge[elbow] (t169);
\draw[br] (c170-184) edge[elbow] (t170) edge[elbow] (c171-184);
\draw[br] (c171-184) edge[elbow] (c171-174) edge[elbow] (c175-184);
\draw[br] (c171-174) edge[elbow] (t171) edge[elbow] (c172-174);
\draw[br] (c172-174) edge[elbow] (t172) edge[elbow] (c173-174);
\draw[br] (c173-174) edge[elbow] (t173) edge[elbow] (t174);
\draw[br] (c175-184) edge[elbow] (t175) edge[elbow] (c176-184);
\draw[br] (c176-184) edge[elbow] (t176) edge[elbow] (c177-184);
\draw[br] (c177-184) edge[elbow] (t177) edge[elbow] (c178-184);
\draw[br] (c178-184) edge[elbow] (t178) edge[elbow] (c179-184);
\draw[br] (c179-184) edge[elbow] (t179) edge[elbow] (c180-184);
\draw[br] (c180-184) edge[elbow] (t180) edge[elbow] (c181-184);
\draw[br] (c181-184) edge[elbow] (c181-182) edge[elbow] (c183-184);
\draw[br] (c181-182) edge[elbow] (t181) edge[elbow] (t182);
\draw[br] (c183-184) edge[elbow] (t183) edge[elbow] (t184);
\draw[br] (c185-205) edge[elbow] (c185-194) edge[elbow] (c195-205);
\draw[br] (c185-194) edge[elbow] (c185-190) edge[elbow] (c191-194);
\draw[br] (c185-190) edge[elbow] (c185-186) edge[elbow] (c187-190);
\draw[br] (c185-186) edge[elbow] (t185) edge[elbow] (t186);
\draw[br] (c187-190) edge[elbow] (t187) edge[elbow] (c188-190);
\draw[br] (c188-190) edge[elbow] (t188) edge[elbow] (c189-190);
\draw[br] (c189-190) edge[elbow] (t189) edge[elbow] (t190);
\draw[br] (c191-194) edge[elbow] (t191) edge[elbow] (c192-194);
\draw[br] (c192-194) edge[elbow] (t192) edge[elbow] (c193-194);
\draw[br] (c193-194) edge[elbow] (t193) edge[elbow] (t194);
\draw[br] (c195-205) edge[elbow] (c195-199) edge[elbow] (c200-205);
\draw[br] (c195-199) edge[elbow] (c195-197) edge[elbow] (c198-199);
\draw[br] (c195-197) edge[elbow] (t195) edge[elbow] (c196-197);
\draw[br] (c196-197) edge[elbow] (t196) edge[elbow] (t197);
\draw[br] (c198-199) edge[elbow] (t198) edge[elbow] (t199);
\draw[br] (c200-205) edge[elbow] (t200) edge[elbow] (c201-205);
\draw[br] (c201-205) edge[elbow] (c201-202) edge[elbow] (c203-205);
\draw[br] (c201-202) edge[elbow] (t201) edge[elbow] (t202);
\draw[br] (c203-205) edge[elbow] (t203) edge[elbow] (c204-205);
\draw[br] (c204-205) edge[elbow] (t204) edge[elbow] (t205);
\draw[br] (c206-237) edge[elbow] (c206-209) edge[elbow] (c210-237);
\draw[br] (c206-209) edge[elbow] (c206-207) edge[elbow] (c208-209);
\draw[br] (c206-207) edge[elbow] (t206) edge[elbow] (t207);
\draw[br] (c208-209) edge[elbow] (t208) edge[elbow] (t209);
\draw[br] (c210-237) edge[elbow] (c210-233) edge[elbow] (c234-237);
\draw[br] (c210-233) edge[elbow] (c210-212) edge[elbow] (c213-233);
\draw[br] (c210-212) edge[elbow] (t210) edge[elbow] (c211-212);
\draw[br] (c211-212) edge[elbow] (t211) edge[elbow] (t212);
\draw[br] (c213-233) edge[elbow] (c213-230) edge[elbow] (c231-233);
\draw[br] (c213-230) edge[elbow] (t213) edge[elbow] (c214-230);
\draw[br] (c214-230) edge[elbow] (c214-223) edge[elbow] (c224-230);
\draw[br] (c214-223) edge[elbow] (t214) edge[elbow] (c215-223);
\draw[br] (c215-223) edge[elbow] (t215) edge[elbow] (c216-223);
\draw[br] (c216-223) edge[elbow] (t216) edge[elbow] (c217-223);
\draw[br] (c217-223) edge[elbow] (t217) edge[elbow] (c218-223);
\draw[br] (c218-223) edge[elbow] (c218-221) edge[elbow] (c222-223);
\draw[br] (c218-221) edge[elbow] (c218-219) edge[elbow] (c220-221);
\draw[br] (c218-219) edge[elbow] (t218) edge[elbow] (t219);
\draw[br] (c220-221) edge[elbow] (t220) edge[elbow] (t221);
\draw[br] (c222-223) edge[elbow] (t222) edge[elbow] (t223);
\draw[br] (c224-230) edge[elbow] (c224-228) edge[elbow] (c229-230);
\draw[br] (c224-228) edge[elbow] (t224) edge[elbow] (c225-228);
\draw[br] (c225-228) edge[elbow] (c225-226) edge[elbow] (c227-228);
\draw[br] (c225-226) edge[elbow] (t225) edge[elbow] (t226);
\draw[br] (c227-228) edge[elbow] (t227) edge[elbow] (t228);
\draw[br] (c229-230) edge[elbow] (t229) edge[elbow] (t230);
\draw[br] (c231-233) edge[elbow] (t231) edge[elbow] (c232-233);
\draw[br] (c232-233) edge[elbow] (t232) edge[elbow] (t233);
\draw[br] (c234-237) edge[elbow] (c234-235) edge[elbow] (c236-237);
\draw[br] (c234-235) edge[elbow] (t234) edge[elbow] (t235);
\draw[br] (c236-237) edge[elbow] (t236) edge[elbow] (t237);
\draw[br] (c238-265) edge[elbow] (c238-249) edge[elbow] (c250-265);
\draw[br] (c238-249) edge[elbow] (c238-244) edge[elbow] (c245-249);
\draw[br] (c238-244) edge[elbow] (c238-239) edge[elbow] (c240-244);
\draw[br] (c238-239) edge[elbow] (t238) edge[elbow] (t239);
\draw[br] (c240-244) edge[elbow] (c240-241) edge[elbow] (c242-244);
\draw[br] (c240-241) edge[elbow] (t240) edge[elbow] (t241);
\draw[br] (c242-244) edge[elbow] (t242) edge[elbow] (c243-244);
\draw[br] (c243-244) edge[elbow] (t243) edge[elbow] (t244);
\draw[br] (c245-249) edge[elbow] (t245) edge[elbow] (c246-249);
\draw[br] (c246-249) edge[elbow] (c246-247) edge[elbow] (c248-249);
\draw[br] (c246-247) edge[elbow] (t246) edge[elbow] (t247);
\draw[br] (c248-249) edge[elbow] (t248) edge[elbow] (t249);
\draw[br] (c250-265) edge[elbow] (c250-257) edge[elbow] (c258-265);
\draw[br] (c250-257) edge[elbow] (c250-253) edge[elbow] (c254-257);
\draw[br] (c250-253) edge[elbow] (t250) edge[elbow] (c251-253);
\draw[br] (c251-253) edge[elbow] (t251) edge[elbow] (c252-253);
\draw[br] (c252-253) edge[elbow] (t252) edge[elbow] (t253);
\draw[br] (c254-257) edge[elbow] (t254) edge[elbow] (c255-257);
\draw[br] (c255-257) edge[elbow] (t255) edge[elbow] (c256-257);
\draw[br] (c256-257) edge[elbow] (t256) edge[elbow] (t257);
\draw[br] (c258-265) edge[elbow] (c258-261) edge[elbow] (c262-265);
\draw[br] (c258-261) edge[elbow] (t258) edge[elbow] (c259-261);
\draw[br] (c259-261) edge[elbow] (t259) edge[elbow] (c260-261);
\draw[br] (c260-261) edge[elbow] (t260) edge[elbow] (t261);
\draw[br] (c262-265) edge[elbow] (c262-263) edge[elbow] (c264-265);
\draw[br] (c262-263) edge[elbow] (t262) edge[elbow] (t263);
\draw[br] (c264-265) edge[elbow] (t264) edge[elbow] (t265);
\end{tikzpicture}
\end{document}
